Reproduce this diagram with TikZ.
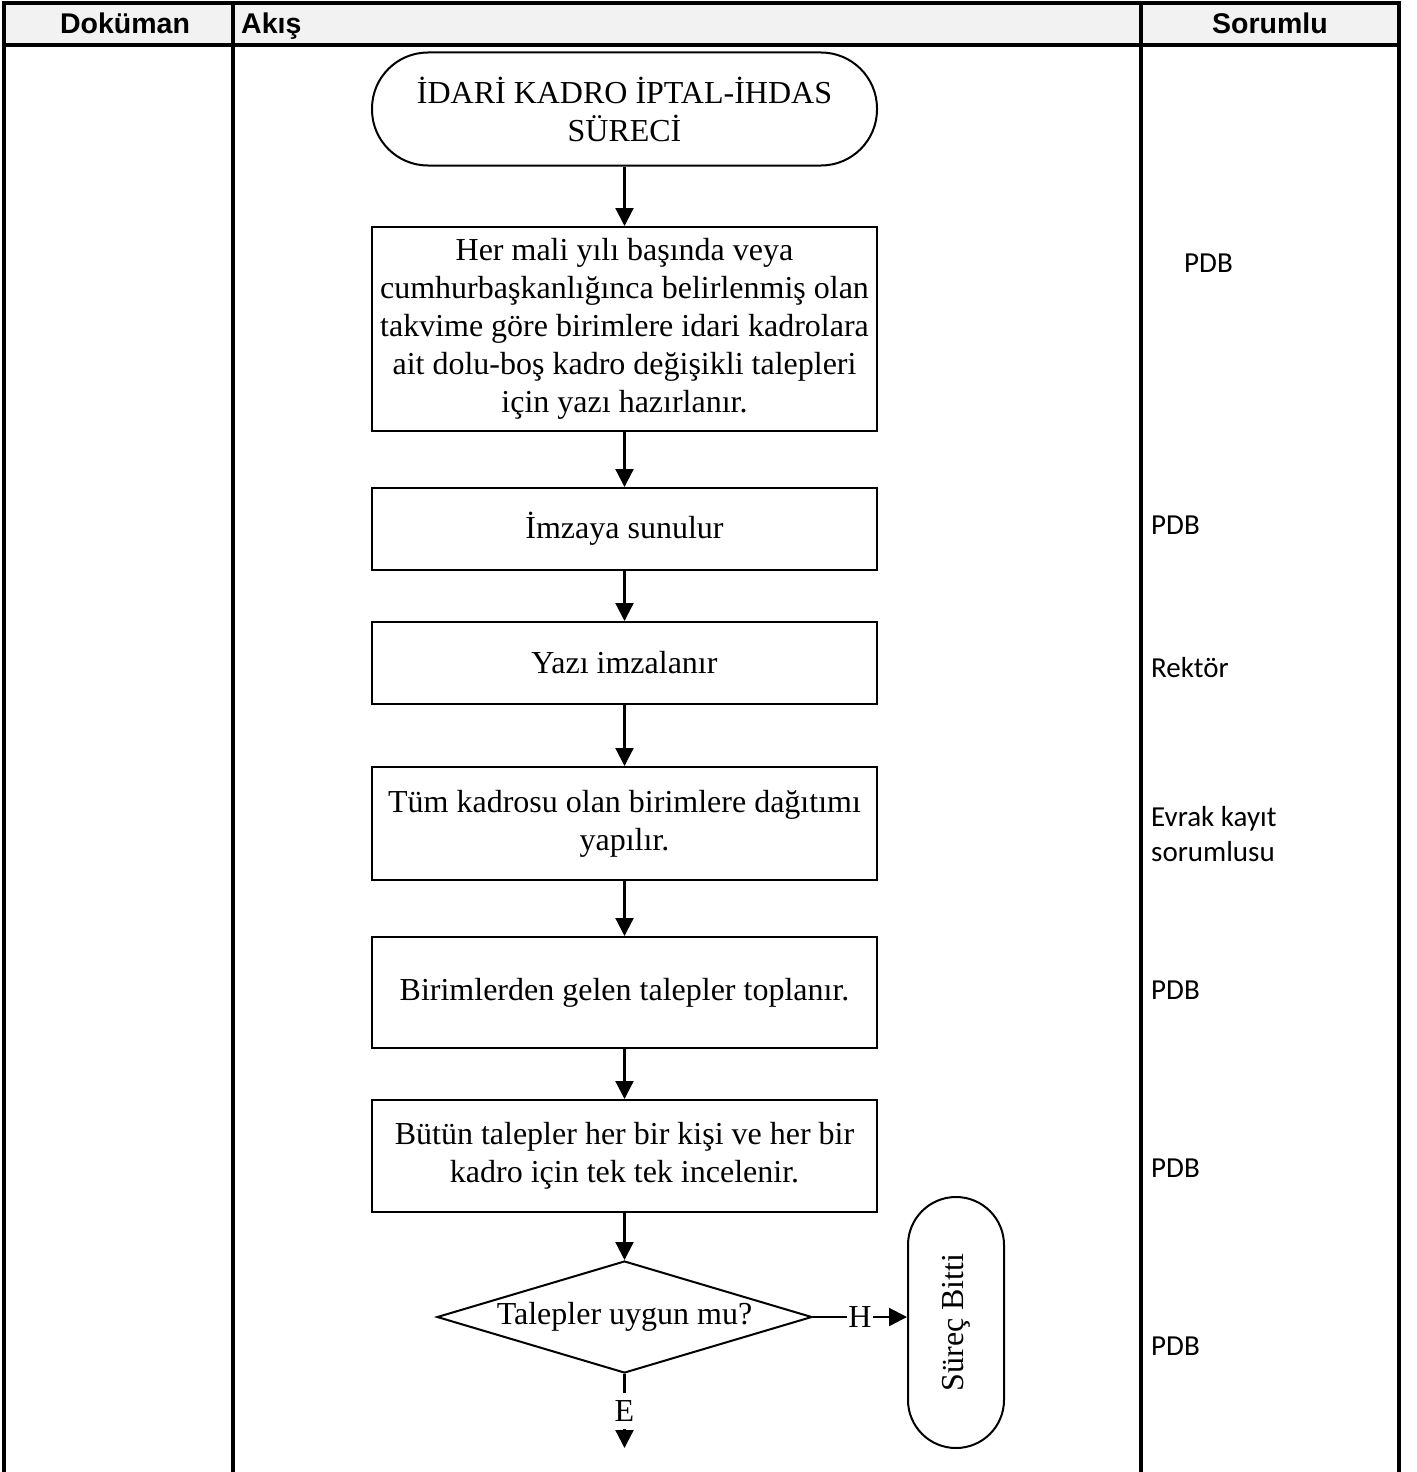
\documentclass[tikz,border=0pt]{standalone}
\usepackage{fontspec}
\setmainfont{Liberation Serif}
\newfontfamily\hdrfont{Liberation Sans}
\newfontfamily\calfont{Carlito}
\usetikzlibrary{shapes.geometric,arrows.meta}
\definecolor{hdrgray}{RGB}{242,242,242}
\begin{document}
\begin{tikzpicture}[x=1pt,y=-1pt,
  flow/.style={draw=black, line width=2pt, align=center, inner sep=0pt, font=\fontsize{32}{38}\selectfont},
  procbox/.style={flow, rectangle, minimum width=505pt},
  term/.style={flow, rectangle, rounded corners=#1},
  conn/.style={line width=2.2pt, -{Triangle[length=18pt,width=18pt]}},
  lbl/.style={fill=white, inner sep=0pt, font=\fontsize{32}{38}\selectfont},
  resp/.style={anchor=west, align=left, inner sep=0pt, font=\calfont\fontsize{29}{35}\selectfont},
  hdr/.style={font=\hdrfont\bfseries\fontsize{28.5}{34}\selectfont, inner sep=0pt},
  tline/.style={line width=3.5pt}
]
\useasboundingbox (0,0) rectangle (1416,1472);
\fill[white] (0,0) rectangle (1416,1472);
% table
\fill[hdrgray] (4,3) rectangle (1399,45);
\draw[tline] (2.25,3) -- (1400.75,3);
\draw[tline] (2.25,45) -- (1400.75,45);
\draw[tline] (4,3) -- (4,1480);
\draw[tline] (233,3) -- (233,1480);
\draw[tline] (1141,3) -- (1141,1480);
\draw[tline] (1399,3) -- (1399,1480);
\node[hdr, anchor=base] (hDok) at (125,34) {Doküman};
\node[hdr, anchor=base west] (hAkis) at (241,34) {Akış};
\node[hdr, anchor=base] (hSor) at (1270,34) {Sorumlu};
% flow
\node[term=56pt, minimum width=505pt, minimum height=113pt] (start) at (624.5,109) {İDARİ KADRO İPTAL-İHDAS\\SÜRECİ};
\node[procbox, minimum height=204pt] (b1) at (624.5,329) {Her mali yılı başında veya\\cumhurbaşkanlığınca belirlenmiş olan\\takvime göre birimlere idari kadrolara\\ait dolu-boş kadro değişikli talepleri\\için yazı hazırlanır.};
\node[procbox, minimum height=82pt] (b2) at (624.5,529) {İmzaya sunulur};
\node[procbox, minimum height=82pt] (b3) at (624.5,663) {Yazı imzalanır};
\node[procbox, minimum height=113pt] (b4) at (624.5,823.5) {Tüm kadrosu olan birimlere dağıtımı\\yapılır.};
\node[procbox, minimum height=111pt] (b5) at (624.5,992.5) {Birimlerden gelen talepler toplanır.};
\node[procbox, minimum height=112pt] (b6) at (624.5,1156) {Bütün talepler her bir kişi ve her bir\\kadro için tek tek incelenir.};
\node[flow, diamond, aspect=3.35, minimum width=375pt, minimum height=112pt] (dia) at (624.5,1317) {Talepler uygun mu?};
\node[term=48pt, rotate=90, minimum width=251pt, minimum height=96pt] (fin) at (956,1322.5) {Süreç Bitti};
\coordinate (eEnd) at (624.5,1448);
\draw[conn] (start.south) -- (b1.north);
\draw[conn] (b1.south) -- (b2.north);
\draw[conn] (b2.south) -- (b3.north);
\draw[conn] (b3.south) -- (b4.north);
\draw[conn] (b4.south) -- (b5.north);
\draw[conn] (b5.south) -- (b6.north);
\draw[conn] (b6.south) -- (dia.north);
\draw[conn] (dia.east) -- node[lbl, minimum width=26pt, minimum height=30pt] (hl) {H} (dia.east -| fin.north);
\draw[conn] (dia.south) -- node[lbl, minimum width=26pt, minimum height=36pt] (el) {E} (eEnd);
% responsibility
\node[resp] (r1) at (1184,263) {PDB};
\node[resp] (r2) at (1151,525) {PDB};
\node[resp] (r3) at (1151,668) {Rektör};
\node[resp] (r4) at (1151,834) {Evrak kayıt\\sorumlusu};
\node[resp] (r5) at (1151,990) {PDB};
\node[resp] (r6) at (1151,1168) {PDB};
\node[resp] (r7) at (1151,1346) {PDB};
\end{tikzpicture}
\end{document}
